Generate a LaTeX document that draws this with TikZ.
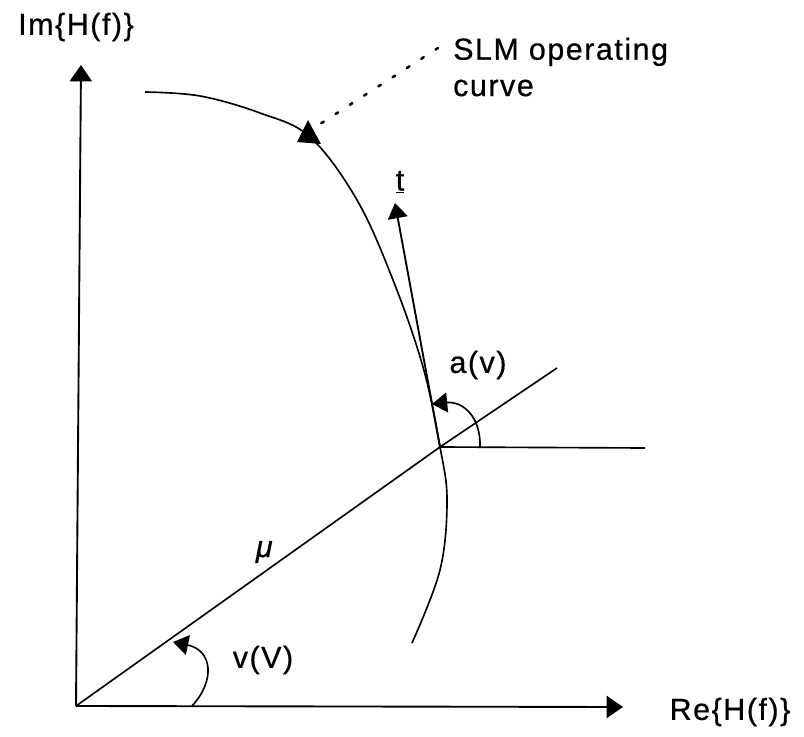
\documentclass[tikz,border=0pt]{standalone}
\usepackage{fontspec}
\setmainfont{Liberation Sans}[LetterSpace=5, FakeBold=0.6]
\usetikzlibrary{arrows.meta}
\begin{document}
\begin{tikzpicture}[x=0.03cm,y=-0.03cm,
  axis/.style={line width=1.6pt,-{Triangle[length=14pt,width=19pt]}},
  thin line/.style={line width=1.4pt},
  vec/.style={line width=1.6pt,-{Triangle[length=13pt,width=17pt]}},
  lbl/.style={font=\fontsize{26}{31}\selectfont, inner sep=0pt},
  leader/.style={line width=2.2pt, line cap=round, dash pattern=on 2.5pt off 12pt}]
\useasboundingbox (0,0) rectangle (804,737);
% coordinates
\coordinate (O) at (76,706);
\coordinate (Ytip) at (81,65);
\coordinate (Xtip) at (623,707);
\coordinate (P) at (440,447);
\coordinate (Mend) at (557,368);
\coordinate (Hend) at (645,448);
\coordinate (Ttip) at (395,203);
\coordinate (Lstart) at (438,48);
\coordinate (Lend) at (320,124);
% axes
\draw[axis] (O) -- (Ytip);
\draw[axis] (O) -- (Xtip);
% labels
\node[lbl] (im) at (76,27) {Im\{H(f)\}};
\node[lbl] (re) at (730,712) {Re\{H(f)\}};
\node[lbl, anchor=west, align=left] (slm) at (453,67) {SLM operating\\curve};
\node[lbl] (tl) at (400,182) {\underline{t}};
\node[lbl] (av) at (478,365) {a(v)};
\node[lbl] (vv) at (263,660) {v(V)};
\node[lbl] (mu) at (265,552) {\textit{μ}};
% operating curve
\draw[thin line] plot[smooth, tension=0.6] coordinates {(145,92) (200,96) (260,113) (310,137) (357,200) (393,280) (423,367) (440,447) (447,500) (440,570) (412,643)};
% marker triangle on curve
\fill (308,120) -- (297,142) -- (321,144) -- cycle;
% leader (dotted)
\draw[leader] (Lstart) -- (Lend);
% mu line and horizontal
\draw[thin line] (O) -- (P) -- (Mend);
\draw[thin line] (P) -- (Hend);
% tangent vector
\draw[vec] (P) -- (Ttip);
% angle a(v)
\draw[vec, line width=1.4pt] (480,447) .. controls (481,417) and (463,401) .. (432,404);
% angle v(V)
\draw[vec, line width=1.4pt] (192,706) .. controls (216,680) and (212,650) .. (173,642);
\end{tikzpicture}
\end{document}
